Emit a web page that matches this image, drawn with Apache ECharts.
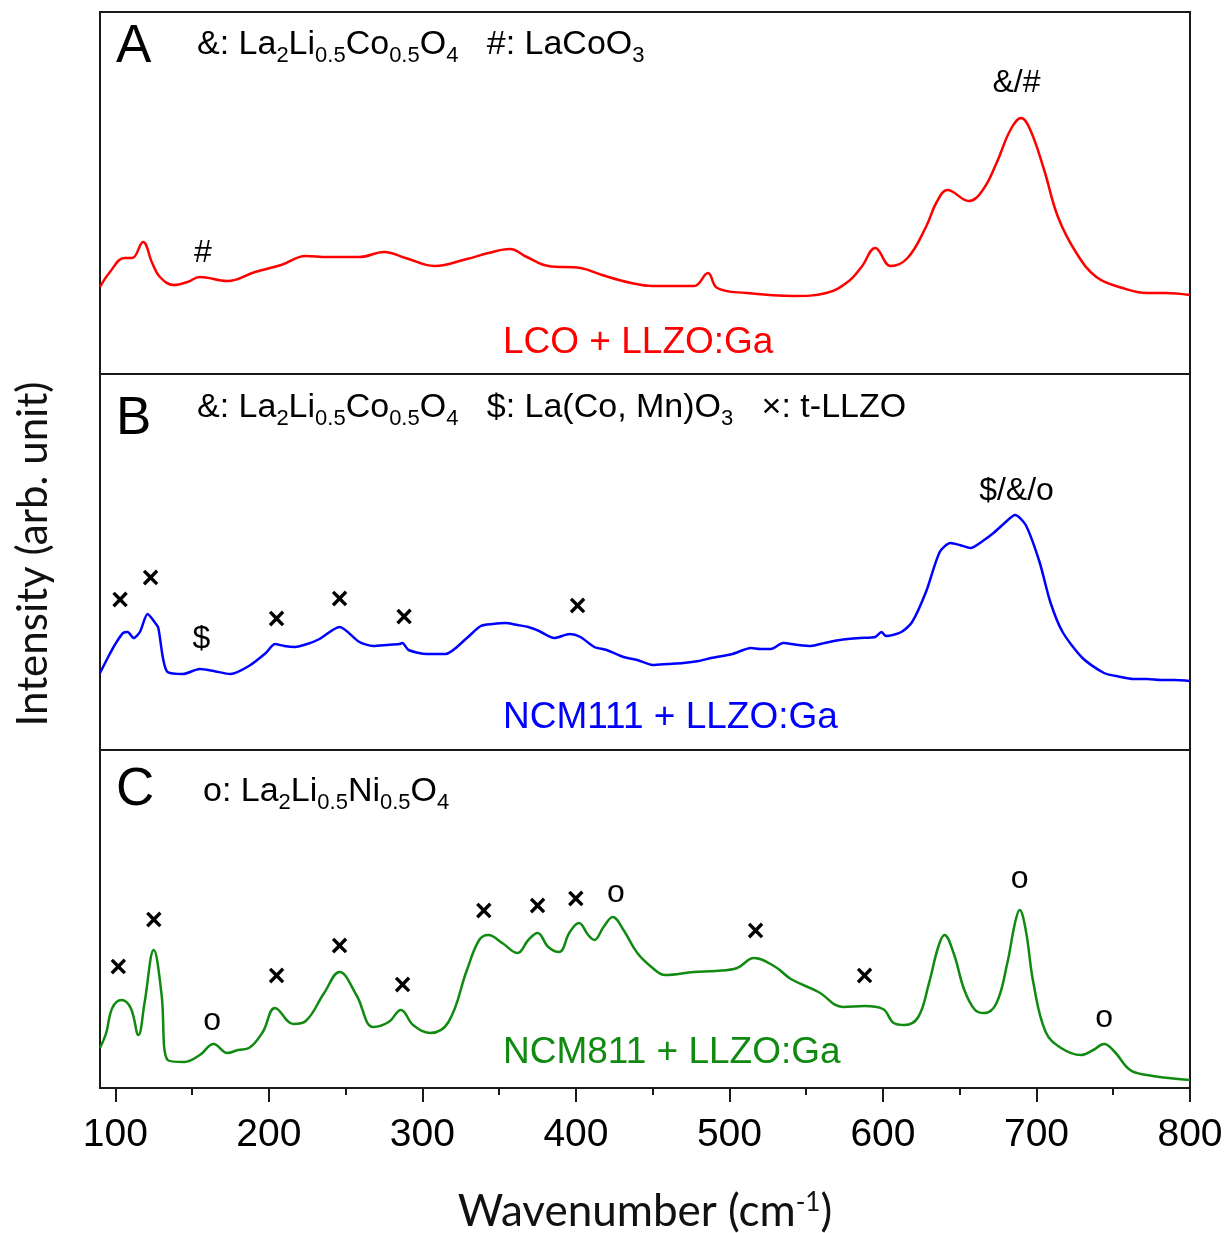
<!DOCTYPE html>
<html>
<head>
<meta charset="utf-8">
<script src="https://cdn.jsdelivr.net/npm/echarts@6/dist/echarts.min.js"></script>
<style>
  html, body { margin: 0; padding: 0; background: #fff; }
  #main { width: 1229px; height: 1233px; }
</style>
</head>
<body>
<div id="main"></div>
<script>
// Raman spectra, [wavenumber (cm-1), intensity (arb.)]
const lcoData = [
  [90, 87], [96, 101], [106, 116], [111, 116], [118, 132], [124, 111], [129, 97], [138, 89],
  [147, 92], [155, 97], [173, 93], [191, 102], [208, 109], [224, 118], [238, 117], [259, 117],
  [275, 122], [289, 116], [308, 108], [329, 115], [343, 121], [357, 125], [368, 117], [382, 108],
  [403, 106], [417, 99], [436, 91], [450, 88], [477, 88], [486, 101], [492, 86], [511, 81],
  [542, 78], [563, 81], [577, 92], [586, 107], [595, 126], [605, 108], [616, 116], [628, 147],
  [635, 172], [642, 184], [656, 173], [665, 184], [674, 211], [683, 244], [690, 256], [696, 244],
  [705, 204], [714, 157], [726, 121], [739, 97], [756, 86], [772, 81], [784, 81], [800, 79]
];
const ncm111Data = [
  [90, 77], [96, 95], [100, 106], [105, 117], [108, 118], [112, 112], [116, 118], [121, 136],
  [126, 127], [128, 122], [131, 92], [134, 78], [144, 76], [155, 81], [164, 79], [175, 76],
  [187, 84], [198, 97], [204, 106], [210, 104], [217, 103], [225, 106], [233, 111], [246, 123],
  [259, 108], [268, 104], [277, 105], [285, 106], [287, 107], [291, 100], [303, 96], [315, 96],
  [329, 112], [338, 124], [346, 126], [354, 127], [362, 125], [369, 123], [376, 119], [386, 112],
  [396, 116], [403, 113], [412, 103], [420, 100], [431, 93], [440, 90], [450, 85], [460, 86],
  [470, 87], [480, 89], [488, 92], [502, 96], [514, 102], [520, 101], [527, 101], [535, 107],
  [545, 105], [553, 104], [562, 107], [572, 110], [585, 112], [595, 113], [599, 118], [602, 114],
  [612, 118], [619, 128], [628, 158], [637, 198], [644, 207], [650, 205], [657, 202], [665, 209],
  [672, 217], [680, 228], [686, 235], [693, 225], [702, 188], [709, 148], [717, 118], [730, 92],
  [744, 77], [755, 73], [763, 71], [772, 71], [781, 70], [790, 70], [800, 69]
];
const ncm811Data = [
  [90, 40], [94, 55], [98, 80], [104, 88], [110, 80], [115, 53], [119, 85], [125, 138],
  [130, 95], [134, 28], [145, 26], [155, 33], [164, 44], [173, 35], [180, 38], [187, 40],
  [196, 56], [204, 80], [216, 64], [224, 67], [236, 95], [246, 116], [257, 93], [268, 61],
  [278, 66], [286, 78], [294, 63], [305, 55], [317, 66], [329, 118], [337, 148], [343, 153],
  [352, 145], [362, 135], [369, 148], [375, 155], [382, 141], [389, 136], [396, 156], [402, 165],
  [408, 153], [412, 148], [418, 161], [424, 171], [431, 158], [440, 135], [450, 120], [458, 113],
  [477, 116], [491, 117], [505, 120], [516, 130], [530, 121], [540, 109], [558, 96], [574, 81],
  [588, 82], [600, 79], [607, 65], [614, 63], [623, 71], [630, 105], [636, 141], [640, 153],
  [646, 135], [653, 98], [660, 78], [666, 75], [674, 85], [681, 125], [686, 165], [689, 178],
  [693, 158], [698, 105], [706, 56], [716, 40], [729, 33], [737, 38], [744, 44], [751, 36],
  [761, 18], [772, 13], [786, 10], [800, 8]
];

// peak assignments, [wavenumber, height, symbol]
const lcoMarks = [[157, 121, '#'], [687, 291, '&/#']];
const ncm111Marks = [
  [103, 149, '×'], [123, 171, '×'], [156, 111, '$'], [205, 130, '×'], [246, 150, '×'],
  [288, 132, '×'], [401, 143, '×'], [687, 259, '$/&/o']
];
const ncm811Marks = [
  [102, 120, '×'], [125, 167, '×'], [163, 67, 'o'], [205, 111, '×'], [246, 141, '×'],
  [287, 102, '×'], [340, 176, '×'], [375, 181, '×'], [400, 188, '×'], [426, 195, 'o'],
  [517, 156, '×'], [588, 111, '×'], [689, 209, 'o'], [744, 70, 'o']
];

const tickLabels = [100, 200, 300, 400, 500, 600, 700, 800];
const minorTicks = [150, 250, 350, 450, 550, 650, 750];

const colors = ['#ff0000', '#0000ff', '#108a10'];
const heights = [362, 376, 338];
const tops = [12, 374, 750];

let myChart = echarts.init(document.getElementById('main'));

function markSeries(marks, idx) {
  return {
    type: 'scatter',
    xAxisIndex: idx,
    yAxisIndex: idx,
    symbolSize: 0,
    silent: true,
    data: marks.map(m => ({
      value: [m[0], m[1]],
      label: {
        show: true,
        position: 'inside',
        formatter: m[2],
        color: '#000',
        textBorderWidth: 0,
        opacity: 1,
        fontFamily: 'Liberation Sans',
        fontSize: m[2] === '×' ? 31 : 32,
        fontWeight: m[2] === '×' ? 'bold' : 'normal'
      }
    }))
  };
}

const sub = { fontSize: 22, fontFamily: 'Liberation Sans', padding: [22, 0, 0, 0], fill: '#000' };
const nor = { fontSize: 34, fontFamily: 'Liberation Sans', fill: '#000' };

function header(x, y, text) {
  return {
    type: 'text', left: x, top: y,
    style: { text: text, rich: { n: nor, s: sub }, fill: '#000' }
  };
}

function letter(x, y, t) {
  return {
    type: 'text', left: x, top: y,
    style: { text: t, fontSize: 53, fontFamily: 'Liberation Sans', fill: '#000' }
  };
}

function sampleLabel(x, y, t, c) {
  return {
    type: 'text', left: x, top: y,
    style: { text: t, fontSize: 37, fontFamily: 'Liberation Sans', fill: c }
  };
}

function tickAxis(values, len) {
  return {
    gridIndex: 2, type: 'value', min: 90, max: 800, position: 'bottom',
    splitLine: { show: false },
    axisLine: { show: false },
    axisTick: { show: true, inside: false, length: len, customValues: values,
      lineStyle: { color: '#1a1a1a', width: 2 } },
    axisLabel: { show: false }
  };
}

let option = {
  animation: false,
  backgroundColor: '#fff',
  grid: [0, 1, 2].map(i => ({
    left: 100, right: 39, top: tops[i], height: heights[i],
    show: true, borderColor: '#1a1a1a', borderWidth: 2, backgroundColor: 'transparent'
  })),
  xAxis: [
    { gridIndex: 0, type: 'value', min: 90, max: 800, show: false },
    { gridIndex: 1, type: 'value', min: 90, max: 800, show: false },
    {
      gridIndex: 2, type: 'value', min: 90, max: 800, position: 'bottom',
      splitLine: { show: false },
      axisLine: { lineStyle: { color: '#1a1a1a', width: 2 } },
      axisTick: { show: false },
      axisLabel: {
        customValues: tickLabels, margin: 28, color: '#000',
        fontSize: 39, fontFamily: 'Liberation Sans'
      }
    },
    tickAxis(tickLabels, 14),
    tickAxis(minorTicks, 7)
  ],
  yAxis: [0, 1, 2].map(i => ({
    gridIndex: i, type: 'value', min: 0, max: heights[i], show: false
  })),
  series: [
    { type: 'line', xAxisIndex: 0, yAxisIndex: 0, data: lcoData, showSymbol: false,
      smooth: 0.4, lineStyle: { color: colors[0], width: 2.5 } },
    { type: 'line', xAxisIndex: 1, yAxisIndex: 1, data: ncm111Data, showSymbol: false,
      smooth: 0.25, lineStyle: { color: colors[1], width: 2.5 } },
    { type: 'line', xAxisIndex: 2, yAxisIndex: 2, data: ncm811Data, showSymbol: false,
      smooth: 0.4, lineStyle: { color: colors[2], width: 2.5 } },
    markSeries(lcoMarks, 0),
    markSeries(ncm111Marks, 1),
    markSeries(ncm811Marks, 2)
  ],
  graphic: [
    letter(116, 21, 'A'),
    letter(116, 393, 'B'),
    letter(116, 764, 'C'),
    header(197, 28, '{n|&: La}{s|2}{n|Li}{s|0.5}{n|Co}{s|0.5}{n|O}{s|4}{n|   #: LaCoO}{s|3}'),
    header(197, 391, '{n|&: La}{s|2}{n|Li}{s|0.5}{n|Co}{s|0.5}{n|O}{s|4}{n|   $: La(Co, Mn)O}{s|3}{n|   ×: t-LLZO}'),
    header(203, 775, '{n|o: La}{s|2}{n|Li}{s|0.5}{n|Ni}{s|0.5}{n|O}{s|4}'),
    sampleLabel(503, 324, 'LCO + LLZO:Ga', colors[0]),
    sampleLabel(503, 699, 'NCM111 + LLZO:Ga', colors[1]),
    sampleLabel(503, 1034, 'NCM811 + LLZO:Ga', colors[2]),
    {
      type: 'text', x: 33, y: 554, rotation: Math.PI / 2,
      style: { text: 'Intensity (arb. unit)', fontSize: 42, fontFamily: 'Lato',
        fill: '#111', align: 'center', verticalAlign: 'middle' }
    },
    {
      type: 'text', x: 645, y: 1212,
      style: {
        text: '{m|Wavenumber (cm}{u|-1}{m|)}', align: 'center', verticalAlign: 'middle',
        rich: {
          m: { fontSize: 44, fontFamily: 'Lato', fill: '#111' },
          u: { fontSize: 26, fontFamily: 'Lato', fill: '#111', padding: [0, 0, 18, 0] }
        }
      }
    }
  ]
};

myChart.setOption(option);
</script>
</body>
</html>
